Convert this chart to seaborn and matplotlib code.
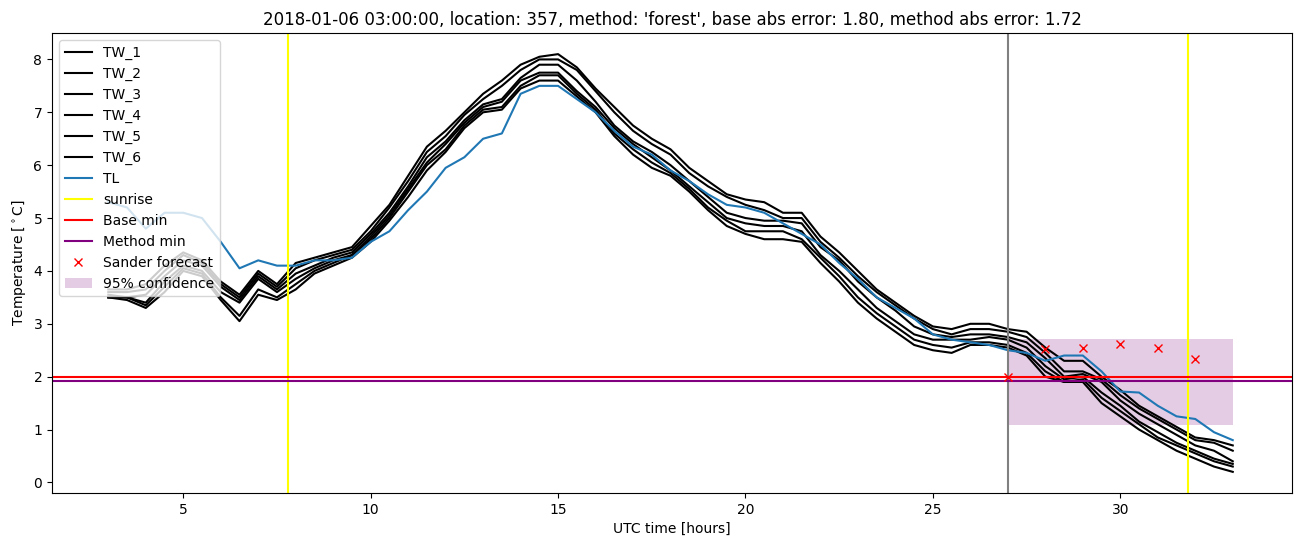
import numpy as np
import pandas as pd
import matplotlib
matplotlib.use("Agg")
import matplotlib.pyplot as plt
import seaborn as sns

# half-hourly time axis, hours since 2018-01-05 00:00 UTC
hours = np.arange(3.0, 33.01, 0.5)

tw_1 = [3.65, 3.65, 3.75, 4.1, 4.35, 4.2, 3.8, 3.55, 4.0, 3.75, 4.15, 4.25, 4.35, 4.45, 4.85, 5.25,
        5.8, 6.35, 6.65, 7.0, 7.35, 7.6, 7.9, 8.05, 8.1, 7.85, 7.45, 7.1, 6.75, 6.5, 6.3, 5.95,
        5.7, 5.45, 5.35, 5.3, 5.1, 5.1, 4.65, 4.35, 4.0, 3.65, 3.4, 3.15, 2.95, 2.9, 3.0, 3.0,
        2.9, 2.85, 2.55, 2.3, 2.3, 2.0, 1.75, 1.45, 1.25, 1.05, 0.85, 0.8, 0.7]
tw_2 = [3.6, 3.6, 3.65, 4.0, 4.3, 4.15, 3.75, 3.5, 3.95, 3.7, 4.05, 4.2, 4.3, 4.4, 4.75, 5.2,
        5.7, 6.25, 6.55, 6.95, 7.25, 7.5, 7.8, 8.0, 8.0, 7.8, 7.4, 7.0, 6.65, 6.4, 6.2, 5.85,
        5.6, 5.4, 5.25, 5.15, 5.0, 5.0, 4.55, 4.25, 3.9, 3.6, 3.35, 3.1, 2.9, 2.8, 2.9, 2.9,
        2.85, 2.75, 2.45, 2.1, 2.1, 1.95, 1.65, 1.4, 1.2, 1.0, 0.8, 0.75, 0.6]
tw_3 = [3.55, 3.5, 3.55, 3.9, 4.2, 4.1, 3.7, 3.45, 3.9, 3.65, 3.95, 4.1, 4.25, 4.35, 4.7, 5.1,
        5.6, 6.15, 6.45, 6.85, 7.15, 7.25, 7.65, 7.9, 7.9, 7.6, 7.2, 6.75, 6.45, 6.25, 6.0, 5.7,
        5.4, 5.1, 5.0, 4.95, 4.95, 4.9, 4.45, 4.2, 3.8, 3.5, 3.25, 2.95, 2.8, 2.75, 2.8, 2.8,
        2.75, 2.65, 2.35, 2.0, 2.05, 1.9, 1.55, 1.3, 1.1, 0.9, 0.7, 0.6, 0.4]
tw_4 = [3.5, 3.5, 3.4, 3.8, 4.1, 4.0, 3.6, 3.4, 3.85, 3.6, 3.85, 4.05, 4.2, 4.3, 4.65, 5.05,
        5.55, 6.05, 6.4, 6.8, 7.1, 7.2, 7.6, 7.75, 7.75, 7.4, 7.1, 6.7, 6.4, 6.15, 5.9, 5.6,
        5.3, 5.0, 4.9, 4.85, 4.85, 4.75, 4.3, 4.0, 3.65, 3.3, 3.05, 2.8, 2.7, 2.7, 2.7, 2.75,
        2.7, 2.55, 2.2, 1.95, 2.0, 1.7, 1.45, 1.15, 0.95, 0.75, 0.6, 0.45, 0.35]
tw_5 = [3.5, 3.5, 3.35, 3.7, 4.05, 3.95, 3.5, 3.15, 3.65, 3.5, 3.75, 4.0, 4.15, 4.3, 4.6, 5.0,
        5.5, 6.0, 6.3, 6.75, 7.05, 7.1, 7.5, 7.7, 7.7, 7.35, 7.05, 6.6, 6.3, 6.05, 5.85, 5.55,
        5.2, 4.95, 4.75, 4.75, 4.75, 4.6, 4.25, 3.9, 3.5, 3.2, 2.95, 2.7, 2.6, 2.55, 2.65, 2.65,
        2.6, 2.45, 2.1, 1.9, 1.95, 1.6, 1.35, 1.1, 0.85, 0.7, 0.55, 0.4, 0.3]
tw_6 = [3.5, 3.45, 3.3, 3.6, 4.0, 3.9, 3.45, 3.05, 3.55, 3.45, 3.65, 3.95, 4.1, 4.25, 4.55, 4.95,
        5.4, 5.9, 6.25, 6.7, 7.0, 7.05, 7.45, 7.6, 7.6, 7.3, 7.0, 6.55, 6.2, 5.95, 5.8, 5.5,
        5.15, 4.85, 4.7, 4.6, 4.6, 4.55, 4.15, 3.8, 3.4, 3.1, 2.85, 2.6, 2.5, 2.45, 2.6, 2.6,
        2.55, 2.4, 2.0, 1.9, 1.9, 1.5, 1.25, 1.0, 0.8, 0.6, 0.45, 0.3, 0.2]
tl = [5.3, 5.2, 4.8, 5.1, 5.1, 5.0, 4.55, 4.05, 4.2, 4.1, 4.1, 4.2, 4.2, 4.25, 4.55, 4.75,
      5.15, 5.5, 5.95, 6.15, 6.5, 6.6, 7.35, 7.5, 7.5, 7.25, 7.0, 6.65, 6.35, 6.2, 5.9, 5.7,
      5.45, 5.25, 5.2, 5.1, 4.9, 4.7, 4.5, 4.15, 3.85, 3.5, 3.3, 3.1, 2.8, 2.7, 2.65, 2.6,
      2.5, 2.45, 2.3, 2.4, 2.4, 2.1, 1.72, 1.7, 1.45, 1.25, 1.2, 0.95, 0.8]

sunrise = [7.8, 31.8]
forecast_start = 27.0
base_min = 2.0
method_min = 1.92

fc_hours = [27, 28, 29, 30, 31, 32]
fc_values = [2.0, 2.53, 2.54, 2.61, 2.54, 2.33]
conf_hours = [27, 33]
conf_low = 1.08
conf_high = 2.72

location = 357
method = 'forest'
base_err = 1.80
method_err = 1.72

df = pd.DataFrame({'hours': hours, 'TW_1': tw_1, 'TW_2': tw_2, 'TW_3': tw_3,
                   'TW_4': tw_4, 'TW_5': tw_5, 'TW_6': tw_6, 'TL': tl})

fig, ax = plt.subplots(figsize=(13.02, 5.47), dpi=100)

for col in ['TW_1', 'TW_2', 'TW_3', 'TW_4', 'TW_5', 'TW_6']:
    sns.lineplot(x='hours', y=col, data=df, color='black', label=col, ax=ax)
sns.lineplot(x='hours', y='TL', data=df, color='tab:blue', label='TL', ax=ax)

ax.axvline(sunrise[0], color='yellow', label='sunrise')
ax.axvline(sunrise[1], color='yellow')
ax.axvline(forecast_start, color='gray')
ax.axhline(base_min, color='red', label='Base min')
ax.axhline(method_min, color='purple', label='Method min')
ax.plot(fc_hours, fc_values, 'x', color='red', label='Sander forecast')
ax.fill_between(conf_hours, conf_low, conf_high, color='purple', alpha=0.2,
                linewidth=0, label='95% confidence')

ax.set_title(f"2018-01-06 03:00:00, location: {location}, method: '{method}', "
             f"base abs error: {base_err:.2f}, method abs error: {method_err:.2f}")
ax.set_xlabel('UTC time [hours]')
ax.set_ylabel(r'Temperature [$^\circ$C]')
ax.set_xlim(1.5, 34.58)
ax.set_ylim(-0.2, 8.5)
ax.legend(loc='upper left')

plt.subplots_adjust(left=0.04, right=0.9923, top=0.9397, bottom=0.0987)
plt.savefig('out.png')
